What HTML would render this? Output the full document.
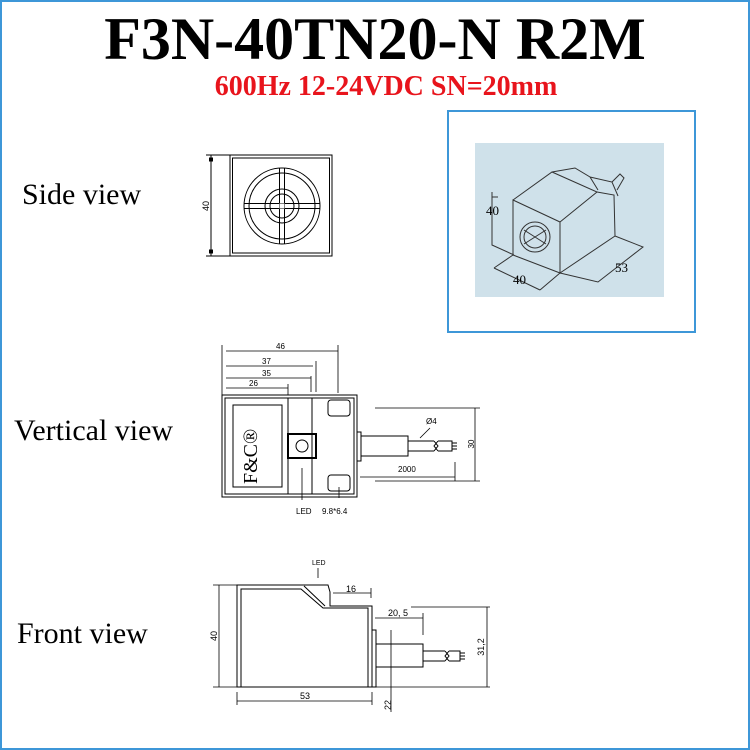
<!DOCTYPE html>
<html><head><meta charset="utf-8"><style>
html,body{margin:0;padding:0;background:#fff}
#w{position:relative;width:746px;height:746px;border:2px solid #3d97d8;overflow:hidden;background:#fff}
.t{position:absolute;font-family:"Liberation Serif",serif;white-space:nowrap}
</style></head><body><div id="w">
<div class="t" style="left:0;width:746px;text-align:center;top:5px;font-size:60px;font-weight:bold;line-height:64px;color:#000">F3N-40TN20-N R2M</div>
<div class="t" style="left:11px;width:746px;text-align:center;top:70px;font-size:28px;font-weight:bold;line-height:30px;color:#e8141c">600Hz 12-24VDC SN=20mm</div>
<div class="t" style="left:20px;top:176px;font-size:30px">Side view</div>
<div class="t" style="left:12px;top:412px;font-size:30px">Vertical view</div>
<div class="t" style="left:15px;top:615px;font-size:30px">Front view</div>
<svg width="746" height="746" style="position:absolute;left:0;top:0" viewBox="2 2 746 746" font-family="Liberation Sans,sans-serif" fill="none" stroke="#000" stroke-width="1">
<!-- Side view -->
<rect x="230" y="155" width="102" height="101"/>
<rect x="232.5" y="158" width="97" height="95"/>
<circle cx="282" cy="206" r="38"/><circle cx="282" cy="206" r="33"/>
<circle cx="282" cy="206" r="17"/><circle cx="282" cy="206" r="12"/>
<path d="M279.5,168V244M284.5,168V244M244,203.5H320M244,208.5H320"/>
<rect x="279.5" y="203.5" width="5" height="5" fill="#fff" stroke="none"/>
<path d="M211,155V256M206,155H230M206,256H230"/>
<rect x="209.5" y="158" width="3" height="3" fill="#000"/><rect x="209.5" y="250" width="3" height="3" fill="#000"/>
<text x="0" y="0" transform="translate(209,206) rotate(-90)" font-size="9" fill="#000" stroke="none" text-anchor="middle">40</text>
<!-- Iso frame -->
<rect x="448" y="111" width="247" height="221" stroke="#3d97d8" stroke-width="2"/>
<rect x="475" y="143" width="189" height="154" fill="#cfe1ea" stroke="none"/>
<g stroke="#333">
<path d="M513,200L560,222L560,273L513,255Z"/>
<path d="M513,200L552,172L597,192L560,222"/>
<path d="M560,273L615,236L614,195L597,192"/>
<path d="M552,172L575,168L590,177L598,190M590,177L612,182L618,196"/>
<path d="M612,182L620,174L624,178L617,190"/>
<circle cx="535" cy="237" r="15"/><circle cx="535" cy="237" r="11"/>
<path d="M524,230L546,244M524,244L546,230"/>
<path d="M492,192L492,245L514,255M498,197H492"/>
<path d="M494,268L540,290M494,268L513,255M540,290L560,273"/>
<path d="M615,236L643,247L598,282L560,273"/>
</g>
<text x="486" y="215" font-size="13" font-family="Liberation Serif,serif" fill="#000" stroke="none">40</text>
<text x="513" y="284" font-size="13" font-family="Liberation Serif,serif" fill="#000" stroke="none">40</text>
<text x="615" y="272" font-size="13" font-family="Liberation Serif,serif" fill="#000" stroke="none">53</text>
<!-- Vertical view -->
<rect x="222" y="395" width="135" height="102"/>
<rect x="225" y="398" width="129" height="96"/>
<rect x="233" y="405" width="49" height="82"/>
<path d="M288,398V494M312,398V494"/>
<rect x="288" y="434" width="28" height="24" stroke-width="2"/>
<circle cx="302" cy="446" r="6"/>
<rect x="328" y="400" width="22" height="16" rx="3"/>
<rect x="328" y="475" width="22" height="16" rx="3"/>
<rect x="357" y="432" width="4" height="29"/>
<rect x="361" y="436" width="47" height="20"/>
<path d="M408,441H434M408,451H434M434,441L438,446L434,451M438,441L434,446L438,451M438,441H452V451H438M452,443H457M452,446H457M452,449H457"/>
<text transform="translate(257,484) rotate(-90)" font-size="20" font-family="Liberation Serif,serif" fill="#000" stroke="none">F&amp;C®</text>
<g stroke-width="0.8">
<path d="M222,345V395M226,351H338M338,345V393M226,366H313M316,361V392M226,378H311M311,376V392M226,388H288M288,384V395"/>
<path d="M375,408H480M375,481H480M475,408V481M360,477H455M455,462V481"/>
<path d="M302,468V500M339,487V498M420,438L430,428"/>
</g>
<g fill="#000" stroke="none" font-size="8">
<text x="276" y="349">46</text><text x="262" y="364">37</text><text x="262" y="376">35</text><text x="249" y="386">26</text>
<text x="398" y="472">2000</text><text x="426" y="424">Ø4</text>
<text transform="translate(474,444) rotate(-90)" text-anchor="middle">30</text>
<text x="296" y="514">LED</text><text x="322" y="514">9.8*6.4</text>
</g>
<!-- Front view -->
<path d="M237,687V585H328L330,592V606H372V687Z"/>
<path d="M241,687V589H301L323,608H368V687"/>
<path d="M304,586L325,606"/>
<rect x="372" y="630" width="4" height="57"/>
<rect x="376" y="644" width="47" height="23"/>
<path d="M423,651H445M423,661H445M445,651L449,656L445,661M449,651L445,656L449,661M449,651H460V661H449M460,653H465M460,656H465M460,659H465"/>
<g stroke-width="0.8">
<path d="M219,585V687M213,585H237M213,687H237M237,701H372M237,692V705M372,692V705"/>
<path d="M333,593H371M371,588V598M375,618H423M423,613V635M411,607H490M375,687H490M487,607V687M391,630V712M318,568V578"/>
</g>
<g fill="#000" stroke="none" font-size="9">
<text transform="translate(217,636) rotate(-90)" text-anchor="middle">40</text>
<text x="300" y="699">53</text><text x="346" y="592">16</text><text x="388" y="616">20, 5</text>
<text transform="translate(484,647) rotate(-90)" text-anchor="middle">31,2</text>
<text transform="translate(391,705) rotate(-90)" text-anchor="middle">22</text>
<text x="312" y="565" font-size="7">LED</text>
</g>
</svg>
</div></body></html>
